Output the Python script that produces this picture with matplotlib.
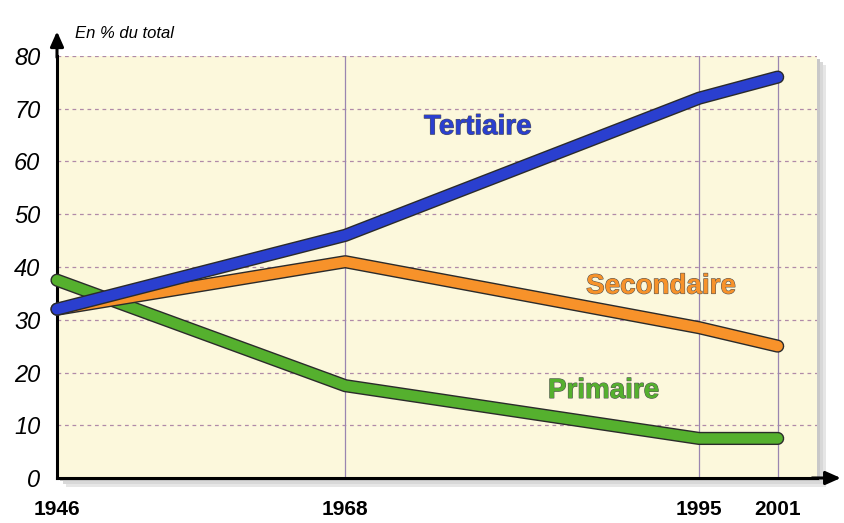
import matplotlib
matplotlib.use("Agg")
import matplotlib.pyplot as plt
import matplotlib.patheffects as pe
from matplotlib.patches import Rectangle

# data
years = [1946, 1968, 1995, 2001]
tertiaire = [32, 46, 72, 76]
secondaire = [32, 41, 28.5, 25]
primaire = [37.5, 17.5, 7.5, 7.5]
yticks = [0, 10, 20, 30, 40, 50, 60, 70, 80]

narrow = ["Liberation Sans", "DejaVu Sans"]

fig = plt.figure(figsize=(8.44, 5.23), dpi=100)
W, H = 844, 523
x0, x1 = 57, 817
y0, y1 = 478, 56
ax = fig.add_axes([x0 / W, 1 - y0 / H, (x1 - x0) / W, (y0 - y1) / H])

# soft shadow behind the plot area
for off, col in [(9, "#e6e6e6"), (6, "#d8d8d8"), (3, "#c8c8c8")]:
    fig.patches.append(Rectangle(((x0 + off) / W, 1 - (y0 + off) / H), (x1 - x0) / W,
                                 (y0 - y1) / H, transform=fig.transFigure,
                                 facecolor=col, edgecolor="none", zorder=-2))

ax.set_facecolor("#fcf8dc")
ax.set_xlim(1946, 2004)
ax.set_ylim(0, 80)

for v in yticks[1:]:
    ax.axhline(v, color="#b08aa8", lw=0.9, ls=(0, (3, 3)), zorder=1)
for yr in years[1:]:
    ax.axvline(yr, color="#9a86b0", lw=0.9, zorder=1)

series = [
    (primaire, "#55b02e"),
    (secondaire, "#f7922a"),
    (tertiaire, "#2a3fcf"),
]
for vals, col in series:
    ax.plot(years, vals, color=col, lw=7.5, solid_capstyle="round",
            solid_joinstyle="round", zorder=3, clip_on=False,
            path_effects=[pe.Stroke(linewidth=9.5, foreground="#2b2b2b"), pe.Normal()])

lbl = dict(fontsize=20, fontweight="bold", family=narrow, ha="center", va="center",
           path_effects=[pe.withStroke(linewidth=0.8, foreground="#555555")])
ax.text(1978.1, 66.5, "Tertiaire", color="#2a3fcf", **lbl)
ax.text(1992.1, 36.3, "Secondaire", color="#f7922a", **lbl)
ax.text(1987.7, 16.5, "Primaire", color="#55b02e", **lbl)

for s in ["top", "right"]:
    ax.spines[s].set_visible(False)
ax.spines["left"].set_linewidth(2.2)
ax.spines["bottom"].set_linewidth(2.2)
ax.spines["left"].set_zorder(2)
ax.spines["bottom"].set_zorder(2)

ax.set_yticks(yticks)
ax.set_yticklabels([str(v) for v in yticks], fontsize=17, style="italic", family=narrow)
ax.tick_params(axis="y", length=0, pad=12)
ax.set_xticks(years)
ax.set_xticklabels([str(y) for y in years], fontsize=15, fontweight="bold", family=narrow)
ax.tick_params(axis="x", length=0, pad=16)

# axis arrows
ax.annotate("", xy=(0, 1.065), xytext=(0, 0.99), xycoords="axes fraction",
            arrowprops=dict(arrowstyle="-|>,head_length=0.9,head_width=0.4", lw=2.2,
                            color="black"), annotation_clip=False)
ax.annotate("", xy=(1.035, 0), xytext=(0.99, 0), xycoords="axes fraction",
            arrowprops=dict(arrowstyle="-|>,head_length=0.9,head_width=0.4", lw=2.2,
                            color="black"), annotation_clip=False)

fig.text(75 / W, 1 - 33 / H, "En % du total", fontsize=12, style="italic",
         family=narrow, va="center")

fig.savefig("out.png", dpi=100)
